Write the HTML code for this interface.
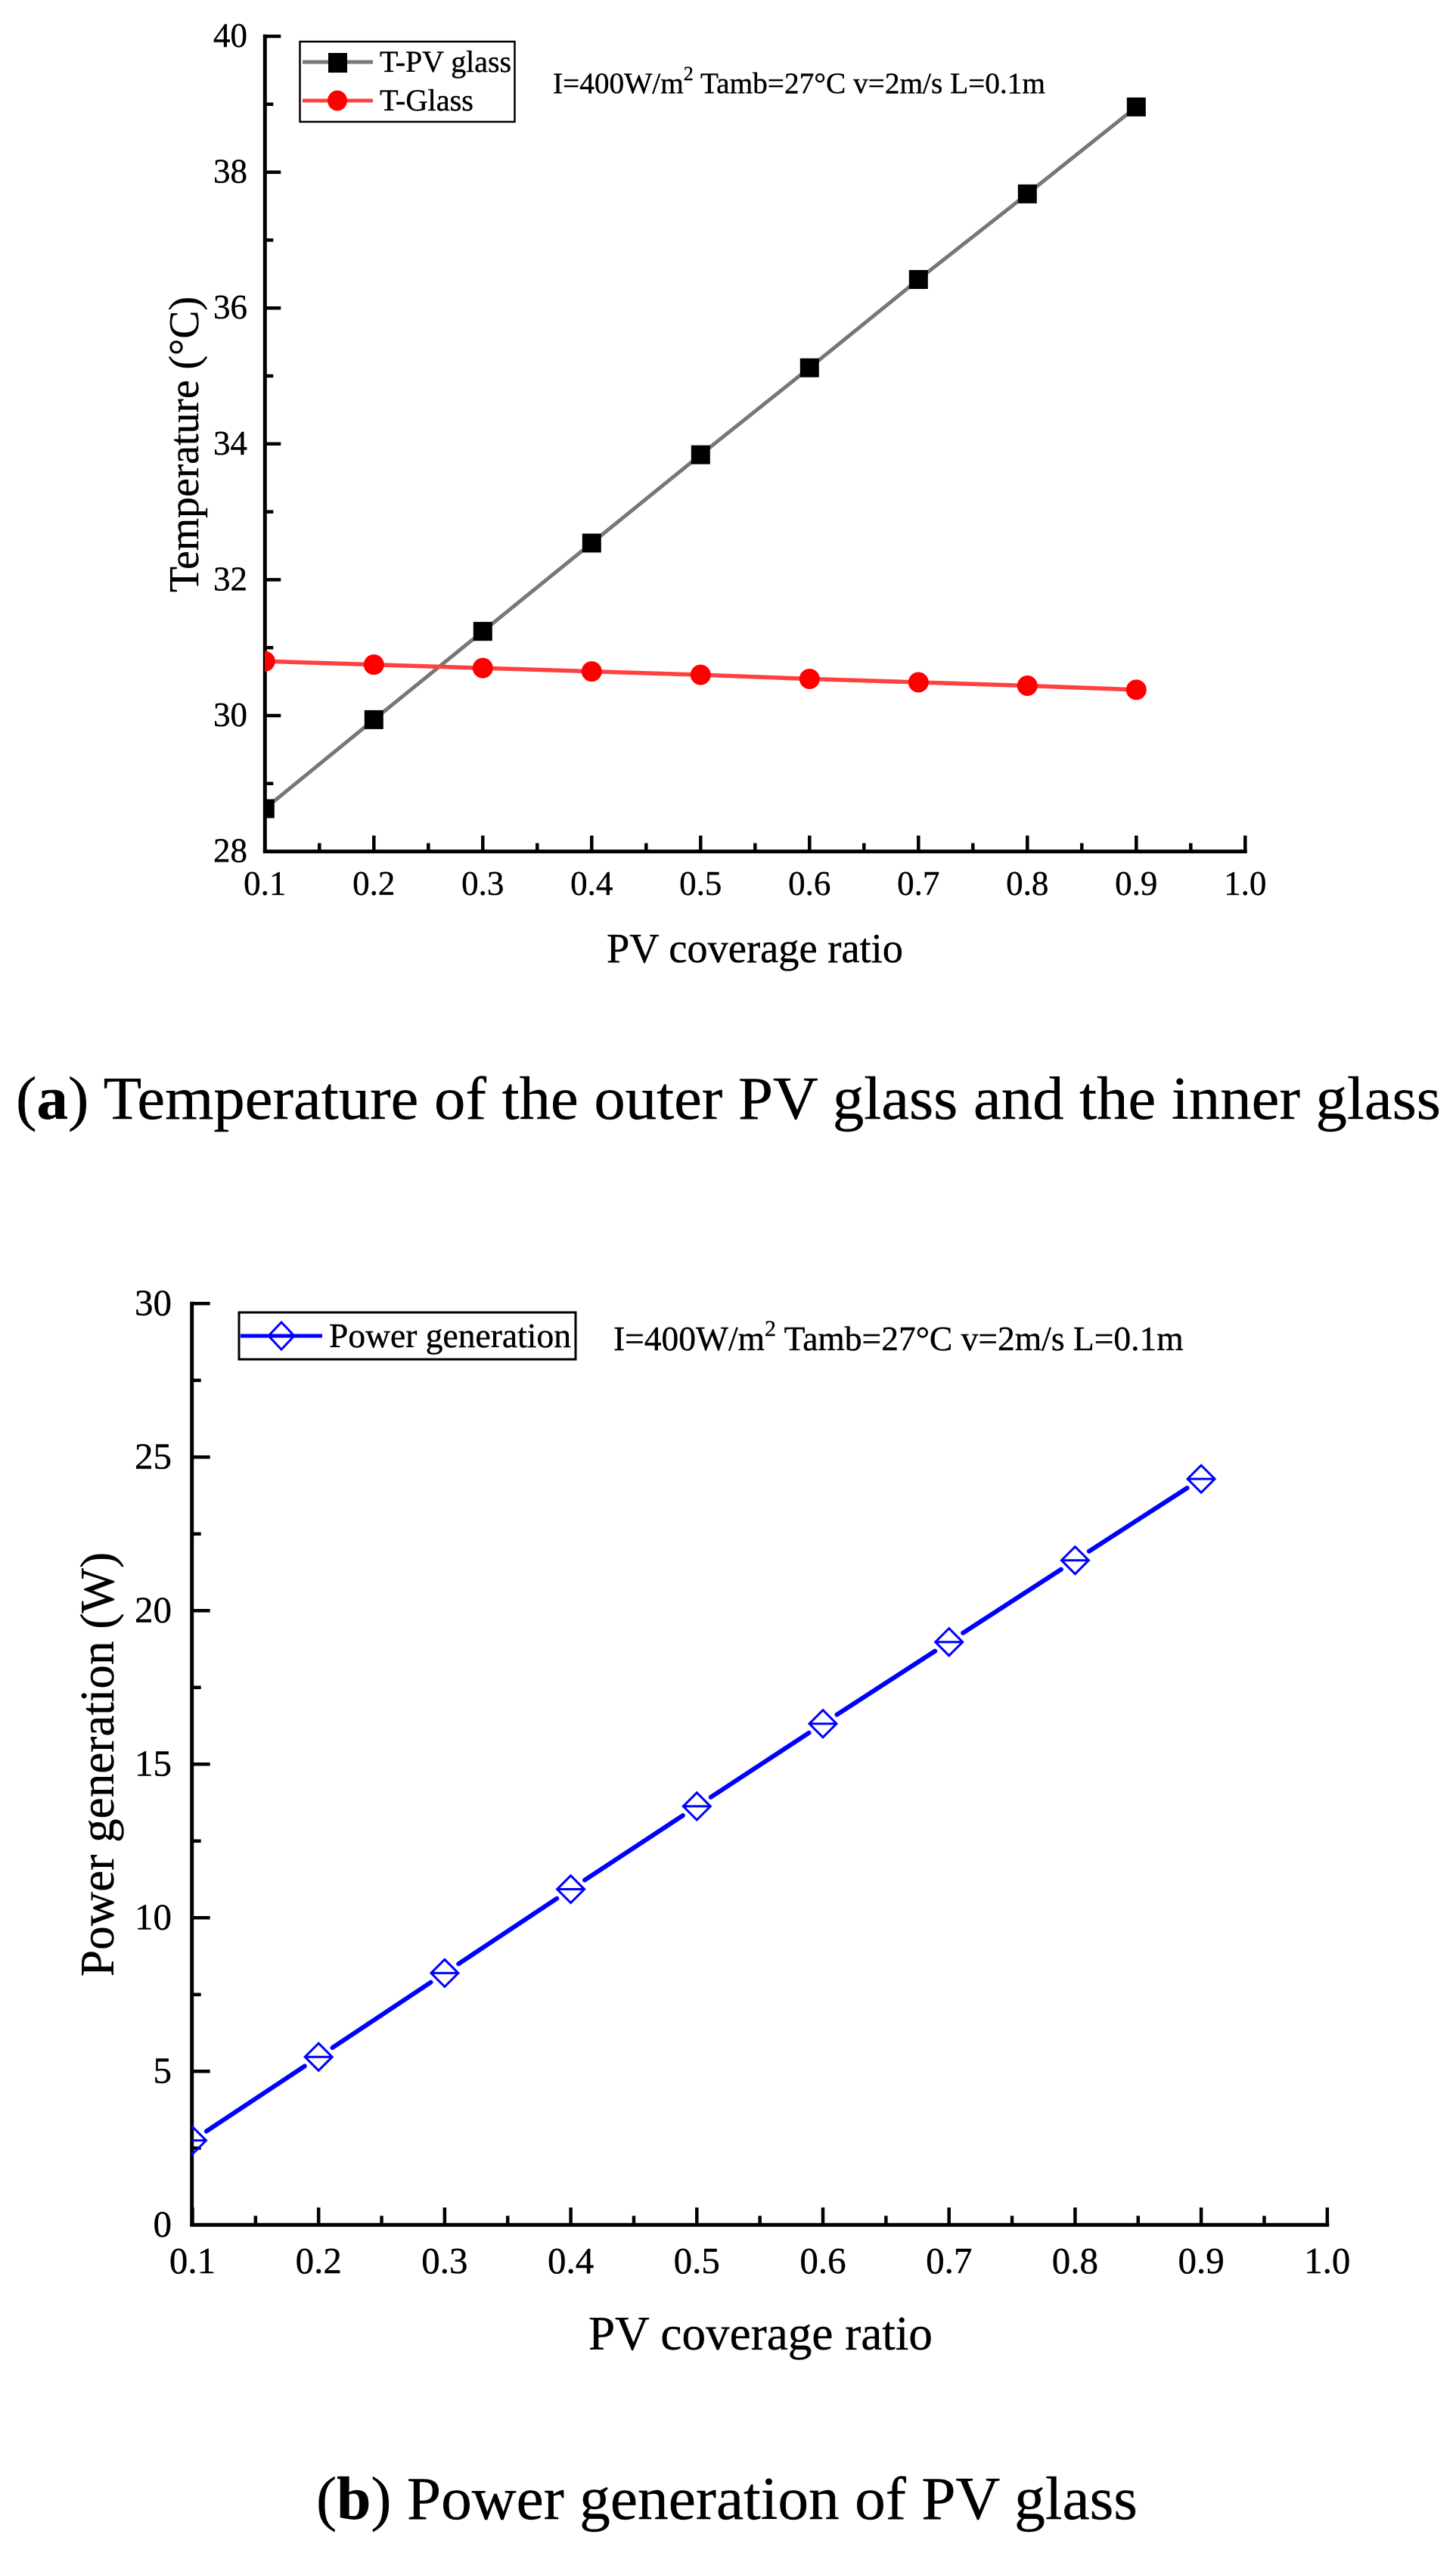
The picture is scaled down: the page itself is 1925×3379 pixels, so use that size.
<!DOCTYPE html>
<html lang="en">
<head>
<meta charset="utf-8">
<title>PV glass temperature and power generation</title>
<style>
html,body{margin:0;padding:0;background:#fff;}
svg{display:block;}
text{font-family:"Liberation Serif","DejaVu Serif",serif;fill:#000;stroke:#000;stroke-width:.4;}
</style>
</head>
<body>
<svg id="fig" xmlns="http://www.w3.org/2000/svg" width="1925" height="3379" viewBox="0 0 1925 3379">
  <defs>
    <clipPath id="clip-a"><rect x="350" y="0" width="1310" height="1126"/></clipPath>
    <clipPath id="clip-b"><rect x="253" y="1700" width="1515" height="1242"/></clipPath>
  </defs>
  <rect width="1925" height="3379" fill="#fff"/>

  <g id="chart-a">
    <g id="a-axes"></g>
    <g id="a-series" clip-path="url(#clip-a)"></g>
    <text transform="translate(262,783) rotate(-90)" font-size="56" textLength="391" lengthAdjust="spacingAndGlyphs">Temperature (°C)</text>
    <text x="802" y="1272" font-size="55" textLength="392" lengthAdjust="spacingAndGlyphs">PV coverage ratio</text>
    <g>
      <rect x="396.5" y="55" width="284" height="106" fill="#fff" stroke="#000" stroke-width="2.5"/>
      <line x1="400" y1="82" x2="493" y2="82" stroke="#777" stroke-width="5"/>
      <rect x="434" y="70" width="25" height="26" fill="#000"/>
      <text x="502" y="95" font-size="40" textLength="174" lengthAdjust="spacingAndGlyphs">T-PV glass</text>
      <line x1="400" y1="133" x2="493" y2="133" stroke="#ff4040" stroke-width="5"/>
      <ellipse cx="446" cy="133" rx="13" ry="13.5" fill="#f00"/>
      <text x="502" y="146" font-size="40" textLength="124" lengthAdjust="spacingAndGlyphs">T-Glass</text>
    </g>
    <text x="731" y="123" font-size="39.3">I=400W/m<tspan font-size="26" dy="-17">2</tspan><tspan dy="17"> Tamb=27°C v=2m/s L=0.1m</tspan></text>
    <text x="21" y="1479" font-size="80" textLength="1884" lengthAdjust="spacingAndGlyphs">(<tspan font-weight="bold">a</tspan>) Temperature of the outer PV glass and the inner glass</text>
  </g>

  <g id="chart-b">
    <g id="b-axes"></g>
    <g id="b-series" clip-path="url(#clip-b)"></g>
    <text transform="translate(150,2613) rotate(-90)" font-size="63" textLength="561" lengthAdjust="spacingAndGlyphs">Power generation (W)</text>
    <text x="778" y="3106" font-size="63" textLength="455" lengthAdjust="spacingAndGlyphs">PV coverage ratio</text>
    <g>
      <rect x="316" y="1735" width="445" height="62" fill="#fff" stroke="#000" stroke-width="3"/>
      <line x1="318" y1="1766" x2="426" y2="1766" stroke="#00f" stroke-width="5"/>
      <path d="M372 1748 L389 1766 L372 1784 L355 1766 Z" fill="none" stroke="#00f" stroke-width="3"/>
      <text x="435" y="1781" font-size="46" textLength="320" lengthAdjust="spacingAndGlyphs">Power generation</text>
    </g>
    <text x="811" y="1785" font-size="45.5">I=400W/m<tspan font-size="30" dy="-19">2</tspan><tspan dy="19"> Tamb=27°C v=2m/s L=0.1m</tspan></text>
    <text x="418" y="3330" font-size="80" textLength="1086" lengthAdjust="spacingAndGlyphs">(<tspan font-weight="bold">b</tspan>) Power generation of PV glass</text>
  </g>
</svg>
<script>
const coverage = [0.1, 0.2, 0.3, 0.4, 0.5, 0.6, 0.7, 0.8, 0.9];
const tempPvGlass = [28.63, 29.94, 31.24, 32.54, 33.84, 35.12, 36.42, 37.68, 38.96];
const tempGlass = [30.80, 30.75, 30.70, 30.65, 30.60, 30.54, 30.49, 30.44, 30.38];
const powerGeneration = [2.75, 5.47, 8.20, 10.93, 13.63, 16.32, 18.98, 21.64, 24.29];
const xTickLabels = ['0.1', '0.2', '0.3', '0.4', '0.5', '0.6', '0.7', '0.8', '0.9', '1.0'];
const tempTickLabels = ['28', '30', '32', '34', '36', '38', '40'];
const powerTickLabels = ['0', '5', '10', '15', '20', '25', '30'];

const NS = 'http://www.w3.org/2000/svg';
const xA = v => 350.3 + (v - 0.1) * 1440;
const yA = v => 48 + (40 - v) * 89.8;
const xB = v => 254.5 + (v - 0.1) * 1667;
const yB = v => 2941.3 - v * 40.6;

function node(parent, tag, attrs) {
  const el = document.createElementNS(NS, tag);
  for (const k in attrs) el.setAttribute(k, attrs[k]);
  parent.appendChild(el);
  return el;
}

function drawAxes(id, xf, yf, xLabels, yLabels, o) {
  const g = document.getElementById(id);
  const yVals = yLabels.map(Number);
  const x0 = o.axisX, x1 = xf(1.0), y0 = yf(yVals[0]), yT = yf(yVals[yVals.length - 1]);
  const yAxis = node(g, 'line', {x1: x0, y1: y0, x2: x0, y2: yT - 2.5, stroke: '#000', 'stroke-width': 5});
  
  
  const xAxis = node(g, 'line', {x1: x0 - 2.5, y1: y0, x2: x1 + 2.5, y2: y0, stroke: '#000', 'stroke-width': 5});
  
  
  xLabels.forEach((lab, i) => {
    const v = Number(lab), px = xf(v);
    const t = node(g, 'line', {x1: px, y1: y0, x2: px, y2: y0 - o.xMajor, stroke: '#000', 'stroke-width': 4.5});
    
    
    const l = node(g, 'text', {x: px, y: o.xLabelY, 'font-size': o.font, 'text-anchor': 'middle'});
    l.textContent = lab;
    
    
    if (i < xLabels.length - 1) {
      const mx = (xf(v) + xf(Number(xLabels[i + 1]))) / 2;
      const m = node(g, 'line', {x1: mx, y1: y0, x2: mx, y2: y0 - o.minor, stroke: '#000', 'stroke-width': 4.5});
      
      
    }
  });
  yLabels.forEach((lab, i) => {
    const v = Number(lab), py = yf(v);
    if (i > 0) {
      const t = node(g, 'line', {x1: x0, y1: py, x2: x0 + o.yMajor, y2: py, stroke: '#000', 'stroke-width': 4.5});
      
      
    }
    const l = node(g, 'text', {x: o.yLabelX, y: py + o.font * 0.31, 'font-size': o.font, 'text-anchor': 'end'});
    l.textContent = lab;
    
    
    if (i < yLabels.length - 1) {
      const my = (yf(v) + yf(Number(yLabels[i + 1]))) / 2;
      const m = node(g, 'line', {x1: x0, y1: my, x2: x0 + o.minor, y2: my, stroke: '#000', 'stroke-width': 4.5});
      
      
    }
  });
}

drawAxes('a-axes', xA, yA, xTickLabels, tempTickLabels, {axisX: 350.3, xMajor: 21, yMajor: 21, minor: 11, font: 45, xLabelY: 1183, yLabelX: 327});
drawAxes('b-axes', xB, yB, xTickLabels, powerTickLabels, {axisX: 253.7, xMajor: 23, yMajor: 24, minor: 12, font: 49, xLabelY: 3005, yLabelX: 227});

const seriesA = document.getElementById('a-series');

const pvLine = node(seriesA, 'polyline', {
  points: coverage.map((c, i) => xA(c) + ',' + yA(tempPvGlass[i])).join(' '),
  fill: 'none', stroke: '#777', 'stroke-width': 5
});



const glassLine = node(seriesA, 'polyline', {
  points: coverage.map((c, i) => xA(c) + ',' + yA(tempGlass[i])).join(' '),
  fill: 'none', stroke: '#ff4040', 'stroke-width': 5.5
});



coverage.forEach((c, i) => {
  const sq = node(seriesA, 'rect', {x: xA(c) - 12.5, y: yA(tempPvGlass[i]) - 12.5, width: 25, height: 25, fill: '#000'});
  
  
  const dot = node(seriesA, 'circle', {cx: xA(c), cy: yA(tempGlass[i]), r: 13.5, fill: '#f00'});
  
  
});

const seriesB = document.getElementById('b-series');
const gap = 22;
coverage.forEach((c, i) => {
  const px = xB(c), py = yB(powerGeneration[i]);
  if (i < coverage.length - 1) {
    const qx = xB(coverage[i + 1]), qy = yB(powerGeneration[i + 1]);
    const len = Math.hypot(qx - px, qy - py), ux = (qx - px) / len, uy = (qy - py) / len;
    const seg = node(seriesB, 'line', {
      x1: px + ux * gap, y1: py + uy * gap, x2: qx - ux * gap, y2: qy - uy * gap,
      stroke: '#00f', 'stroke-width': 6, 'stroke-linecap': 'round'
    });
    
    
  }
  const d = node(seriesB, 'path', {
    d: 'M' + px + ' ' + (py - 18) + ' L' + (px + 18) + ' ' + py + ' L' + px + ' ' + (py + 18) + ' L' + (px - 18) + ' ' + py + ' Z M' + (px - 18) + ' ' + py + ' H' + (px + 18),
    fill: 'none', stroke: '#00f', 'stroke-width': 3
  });
  
  
});
</script>
</body>
</html>
